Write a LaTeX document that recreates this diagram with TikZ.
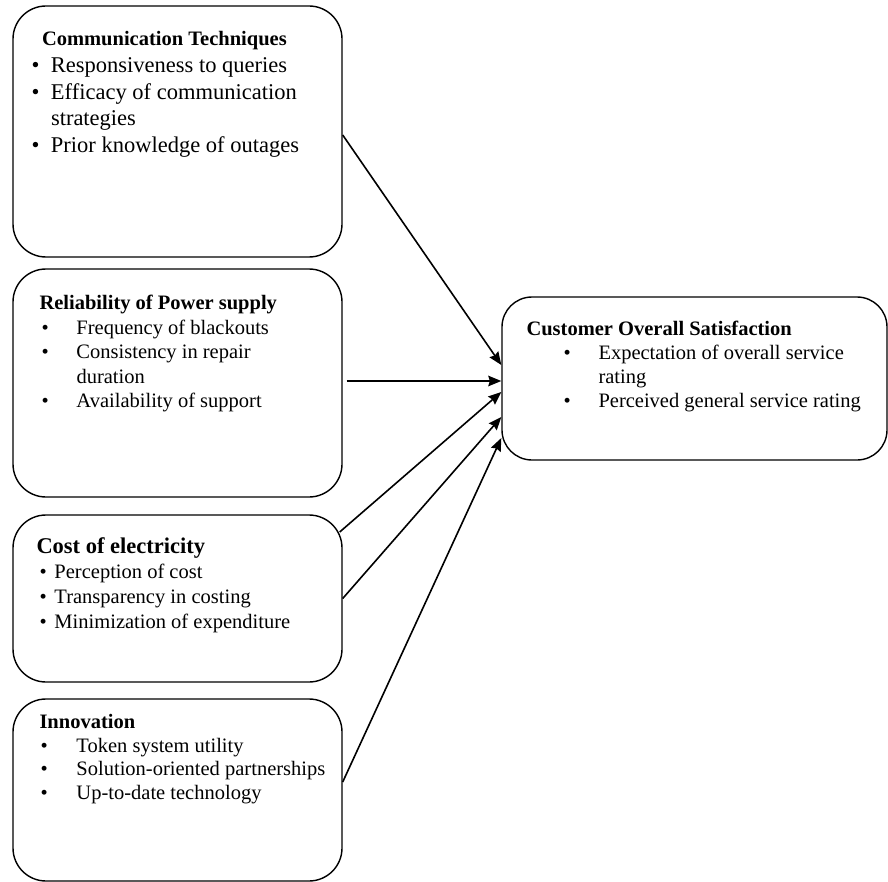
\documentclass[tikz,border=0pt]{standalone}
\usepackage{fontspec}
\setmainfont{Liberation Serif}
\usetikzlibrary{positioning,arrows.meta}
\newcommand{\bx}[1]{\makebox[#1][l]{\textbullet}}
\tikzset{
  factor/.style={draw, rounded corners=33pt, line width=1.4pt, minimum width=329pt, inner sep=0pt},
  itemlist/.style={align=left, inner sep=0pt},
  link/.style={line width=1.6pt, -{Stealth[length=13pt,width=10.5pt,inset=1.5pt]}}
}
\begin{document}
\begin{tikzpicture}[x=1pt,y=-1pt]
\useasboundingbox (0,0) rectangle (888,882);
% boxes
\node [factor, minimum height=251pt] (comm) at (177.5,131.5) {};
\node [factor, minimum height=228pt] (rel) at (177.5,383) {};
\node [factor, minimum height=167pt] (cost) at (177.5,598.5) {};
\node [factor, minimum height=182pt] (innov) at (177.5,790) {};
\node [factor, minimum width=385pt, minimum height=163pt, rounded corners=30pt] (sat) at (694.5,378.5) {};
% texts
\node [itemlist, font=\fontsize{22.5}{26.7}\selectfont, below right=26pt and 19pt of comm.north west] (commtext) {%
{\fontsize{20.5}{24}\selectfont\bfseries\hspace*{10.5pt}Communication Techniques}\\
\bx{19.5pt}Responsiveness to queries\\
\bx{19.5pt}Efficacy of communication\\
\hspace*{19.5pt}strategies\\
\bx{19.5pt}Prior knowledge of outages};
\node [itemlist, font=\fontsize{20.5}{24.5}\selectfont, below right=27pt and 27pt of rel.north west] (reltext) {%
\textbf{Reliability of Power supply}\\
\hspace*{2pt}\bx{35pt}Frequency of blackouts\\
\hspace*{2pt}\bx{35pt}Consistency in repair\\
\hspace*{37pt}duration\\
\hspace*{2pt}\bx{35pt}Availability of support};
\node [itemlist, font=\fontsize{20.5}{25}\selectfont, below right=23pt and 24pt of cost.north west] (costtext) {%
{\fontsize{22.5}{25}\selectfont\bfseries Cost of electricity}\\
\hspace*{3pt}\bx{15pt}Perception of cost\\
\hspace*{3pt}\bx{15pt}Transparency in costing\\
\hspace*{3pt}\bx{15pt}Minimization of expenditure};
\node [itemlist, font=\fontsize{20.5}{23.5}\selectfont, below right=16pt and 27pt of innov.north west] (innovtext) {%
\textbf{Innovation}\\
\hspace*{1pt}\bx{36pt}Token system utility\\
\hspace*{1pt}\bx{36pt}Solution-oriented partnerships\\
\hspace*{1pt}\bx{36pt}Up-to-date technology};
\node [itemlist, font=\fontsize{20.5}{24}\selectfont, below right=25pt and 25pt of sat.north west] (sattext) {%
\textbf{Customer Overall Satisfaction}\\
\hspace*{37pt}\bx{35pt}Expectation of overall service\\
\hspace*{72pt}rating\\
\hspace*{37pt}\bx{35pt}Perceived general service rating};
% arrows
\draw [link] ([yshift=-3.5pt]comm.east) -- ([yshift=13.5pt]sat.west);
\draw [link] ([xshift=4pt,yshift=2pt]rel.east) -- ([yshift=-2.5pt]sat.west);
\draw [link] ([xshift=-3pt,yshift=66.5pt]cost.east) -- ([yshift=-13.5pt]sat.west);
\draw [link] (cost.east) -- ([yshift=-38.5pt]sat.west);
\draw [link] ([yshift=8pt]innov.east) -- ([yshift=-59.5pt]sat.west);
\end{tikzpicture}
\end{document}
